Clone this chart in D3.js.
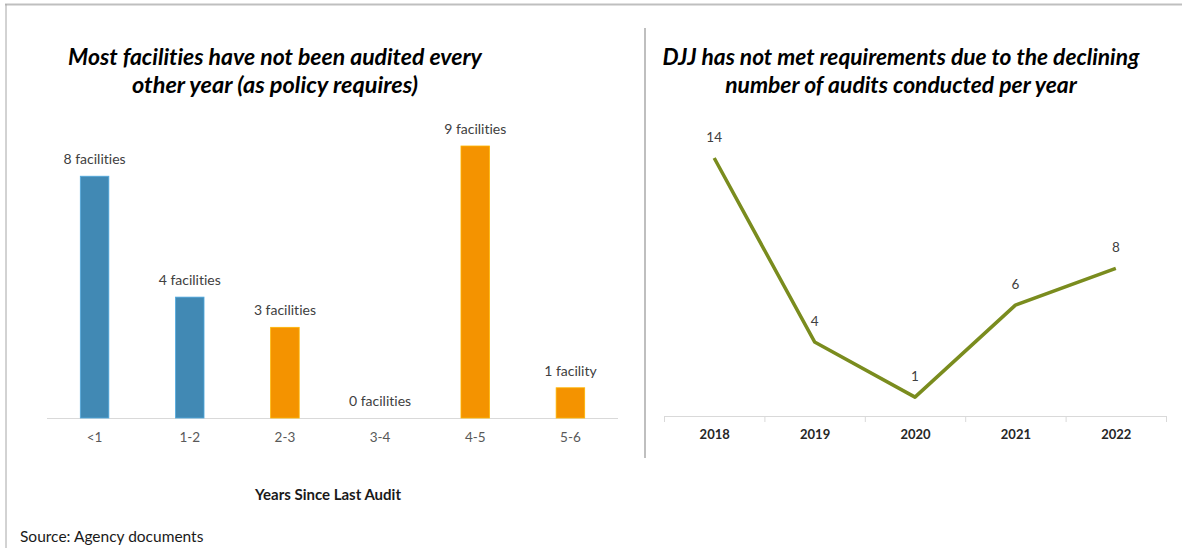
<!DOCTYPE html>
<html><head><meta charset="utf-8">
<script src="https://cdn.jsdelivr.net/npm/d3@7"></script>
<style>body{margin:0;background:#fff}svg{display:block;font-variant-ligatures:none;font-feature-settings:"liga" 0,"clig" 0}</style>
</head><body>
<script>
const barCategories = ["<1","1-2","2-3","3-4","4-5","5-6"];
const barValues = [8,4,3,0,9,1];
const barLabels = ["8 facilities","4 facilities","3 facilities","0 facilities","9 facilities","1 facility"];
const barGroup = ["recent","recent","overdue","overdue","overdue","overdue"];
const years = ["2018","2019","2020","2021","2022"];
const audits = [14,4,1,6,8];

const W=1182,H=548;
const FONT="Lato, 'Open Sans', sans-serif";
const svg=d3.select("body").append("svg").attr("width",W).attr("height",H).style("font-family",FONT);

// frame
svg.append("line").attr("x1",5).attr("x2",W).attr("y1",4.5).attr("y2",4.5).attr("stroke","#bfbfbf").attr("stroke-width",2);
svg.append("line").attr("x1",6).attr("x2",6).attr("y1",4).attr("y2",H).attr("stroke","#a6a6a6").attr("stroke-width",1);
svg.append("line").attr("x1",645).attr("x2",645).attr("y1",28).attr("y2",458).attr("stroke","#bfbfbf").attr("stroke-width",2);

function fitText(sel,target){
  const node=sel.node(); let fs=parseFloat(sel.attr("font-size"));
  const w=node.getComputedTextLength(); sel.attr("font-size",(fs*target/w).toFixed(2));
}
function title(lines,cx,ys,widths){
  lines.forEach((t,i)=>{
    const s=svg.append("text").attr("x",cx).attr("y",ys[i]).attr("text-anchor","middle")
      .attr("font-size",20).attr("font-weight","bold").attr("font-style","italic").attr("fill","#000").text(t);
    fitText(s,widths[i]);
  });
}
title(["Most facilities have not been audited every","other year (as policy requires)"],275,[65,93],[414,286]);
title(["DJJ has not met requirements due to the declining","number of audits conducted per year"],901,[65,93],[477,352]);

// left bar chart
const x=d3.scaleBand().domain(barCategories).range([47,618]).paddingInner(0.7).paddingOuter(0.35);
const y=d3.scaleLinear().domain([0,9]).range([418,146]);
const color=d3.scaleOrdinal().domain(["recent","overdue"]).range(["#4189b4","#f49300"]);
const gL=svg.append("g");
gL.append("line").attr("x1",47).attr("x2",618).attr("y1",y(0)+0.5).attr("y2",y(0)+0.5).attr("stroke","#d9d9d9");
gL.selectAll("rect").data(barValues).join("rect")
  .attr("x",(d,i)=>x(barCategories[i])).attr("width",x.bandwidth())
  .attr("y",d=>y(d)).attr("height",d=>y(0)-y(d))
  .attr("fill",(d,i)=>color(barGroup[i])).attr("stroke",(d,i)=>d3.color(color(barGroup[i])).brighter(0.6)).attr("stroke-width",d=>d>0?0.8:0);
gL.selectAll("text.val").data(barValues).join("text").attr("class","val")
  .attr("x",(d,i)=>x(barCategories[i])+x.bandwidth()/2).attr("y",d=>y(d)-12)
  .attr("text-anchor","middle").attr("font-size",14).attr("fill","#404040").text((d,i)=>barLabels[i]);
const axL=gL.append("g").attr("transform",`translate(0,${y(0)})`).call(d3.axisBottom(x).tickSize(0).tickPadding(14));
axL.select(".domain").remove();
axL.selectAll("text").attr("font-size",13.5).attr("fill","#595959").attr("font-family",FONT);
gL.append("text").attr("x",328).attr("y",500).attr("text-anchor","middle").attr("font-size",15).attr("font-weight","bold").attr("fill","#1a1a1a").text("Years Since Last Audit");

// right line chart
const xr=d3.scalePoint().domain(years).range([664,1166]).padding(0.5);
const yr=d3.scaleLinear().domain([0,14]).range([415.5,158]);
const gR=svg.append("g");
const step=xr.step();
gR.append("line").attr("x1",664).attr("x2",1166).attr("y1",416.5).attr("y2",416.5).attr("stroke","#d9d9d9");
const bounds=d3.range(years.length+1).map(i=>664+i*step);
gR.selectAll("line.tick").data(bounds).join("line").attr("class","tick")
  .attr("x1",d=>d+0.5).attr("x2",d=>d+0.5).attr("y1",416).attr("y2",422).attr("stroke","#d9d9d9");
const line=d3.line().x((d,i)=>xr(years[i])).y(d=>yr(d));
gR.append("path").datum(audits).attr("d",line).attr("fill","none").attr("stroke","#7a8c1e").attr("stroke-width",3.5).attr("stroke-linejoin","round");
gR.selectAll("text.val").data(audits).join("text").attr("class","val")
  .attr("x",(d,i)=>xr(years[i])).attr("y",d=>yr(d)-16)
  .attr("text-anchor","middle").attr("font-size",13.5).attr("fill","#404040").text(d=>d);
const axR=gR.append("g").attr("transform","translate(0,416)").call(d3.axisBottom(xr).tickSize(0).tickPadding(14));
axR.select(".domain").remove();
axR.selectAll("text").attr("font-size",13).attr("font-weight","bold").attr("fill","#262626").attr("font-family",FONT);

svg.append("text").attr("x",20).attr("y",542).attr("font-size",15.5).attr("fill","#1a1a1a").text("Source: Agency documents");
</script>
</body></html>
